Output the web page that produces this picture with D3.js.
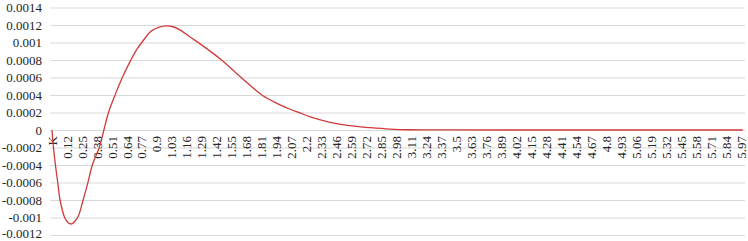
<!DOCTYPE html>
<html>
<head>
<meta charset="utf-8">
<script src="https://cdn.jsdelivr.net/npm/d3@7"></script>
<style>
  body { margin: 0; background: #fff; }
</style>
</head>
<body>
<svg id="chart" width="748" height="241"></svg>
<script>
// category axis: header cell "K" then k = 0 .. 5.98 in 0.01 steps
const categories = ["K"].concat(d3.range(599).map(i => String(+(i * 0.01).toFixed(2))));

const tickLabels = ["K", "0.12", "0.25", "0.38", "0.51", "0.64", "0.77", "0.9", "1.03", "1.16",
  "1.29", "1.42", "1.55", "1.68", "1.81", "1.94", "2.07", "2.2", "2.33", "2.46", "2.59", "2.72",
  "2.85", "2.98", "3.11", "3.24", "3.37", "3.5", "3.63", "3.76", "3.89", "4.02", "4.15", "4.28",
  "4.41", "4.54", "4.67", "4.8", "4.93", "5.06", "5.19", "5.32", "5.45", "5.58", "5.71", "5.84", "5.97"];

const yTicks = [-0.0012, -0.001, -0.0008, -0.0006, -0.0004, -0.0002, 0,
  0.0002, 0.0004, 0.0006, 0.0008, 0.001, 0.0012, 0.0014];

// values at these categories
const seriesK = ["K", "0", "0.02", "0.04", "0.06", "0.1", "0.13", "0.16", "0.19", "0.22", "0.26",
  "0.3", "0.34", "0.4", "0.44", "0.48", "0.54", "0.6", "0.67", "0.72", "0.78", "0.85", "0.92",
  "0.98", "1.04", "1.1", "1.19", "1.29", "1.46", "1.63", "1.81", "1.94", "2.05", "2.14", "2.23",
  "2.4", "2.57", "2.75", "2.92", "3.09", "3.5", "4.5", "5.98"];
const seriesV = [0, -0.00016, -0.0004, -0.0006, -0.0008, -0.001, -0.00106, -0.001074, -0.00104,
  -0.00098, -0.0008, -0.00061, -0.0004, -0.0002, 0, 0.0002, 0.00041, 0.0006, 0.00079, 0.00091,
  0.00102, 0.00113, 0.001175, 0.00119, 0.00118, 0.001145, 0.00106, 0.00097, 0.0008, 0.0006,
  0.0004, 0.000305, 0.00024, 0.000195, 0.00015, 0.000088, 0.000049, 0.000027, 0.000011,
  0.000003, 0.0000005, 0, 0];

const FONT = "'Liberation Serif', 'Times New Roman', serif";
const plot = { left: 51.4, right: 743.4, top: 7.5, bottom: 235 };
const svg = d3.select('#chart');

const x = d3.scaleBand().domain(categories).range([plot.left, plot.right]).padding(0);
const y = d3.scaleLinear().domain([-0.0012, 0.0014]).range([plot.bottom, plot.top]);
const cx = c => x(c) + x.bandwidth() / 2;

// horizontal gridlines + value labels
const yAxis = svg.append('g')
    .attr('transform', `translate(50,0)`)
    .call(d3.axisLeft(y).tickValues(yTicks).tickFormat(d => String(d))
        .tickSizeInner(-695).tickSizeOuter(0).tickPadding(8))
    .attr('font-family', FONT)
    .attr('font-size', 13);
yAxis.select('.domain').remove();
yAxis.selectAll('line').attr('stroke', '#d9d9d9').attr('stroke-width', 1);
yAxis.selectAll('text').attr('fill', '#262626');
yAxis.selectAll('.tick').filter(d => d === -0.0012).select('text').attr('dy', '0.2em');

// category labels at y = 0, rotated
svg.append('g')
    .attr('font-family', FONT)
    .attr('font-size', 13)
    .attr('fill', '#262626')
    .selectAll('text')
    .data(tickLabels)
    .enter()
    .append('text')
    .attr('transform', d => `translate(${cx(d)},${y(0) + 6}) rotate(-90)`)
    .attr('dy', '0.35em')
    .attr('text-anchor', 'end')
    .text(d => d);

const pts = seriesK.map((k, i) => [cx(k), y(seriesV[i])]);
svg.append('path')
    .attr('d', d3.line().curve(d3.curveCatmullRom.alpha(0.5))(pts))
    .attr('fill', 'none')
    .attr('stroke', '#d03a3a')
    .attr('stroke-width', 1.3);
</script>
</body>
</html>
